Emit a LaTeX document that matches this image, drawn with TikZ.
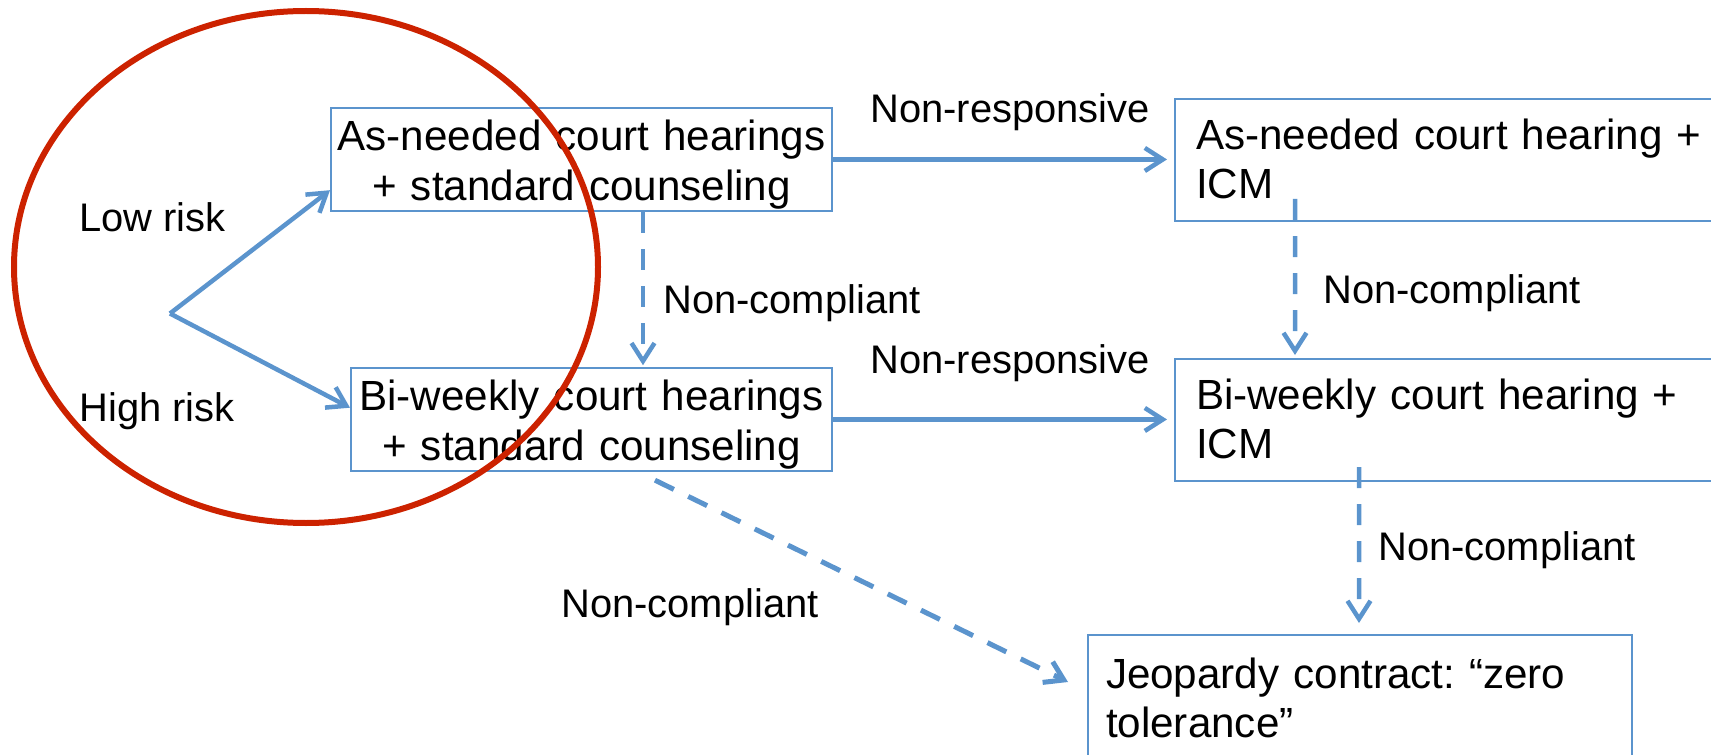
\documentclass[tikz,border=0pt]{standalone}
\usepackage{fontspec}
\setmainfont{Liberation Sans}
\usetikzlibrary{arrows.meta}
\definecolor{linkblue}{RGB}{91,148,205}
\definecolor{ringred}{RGB}{204,34,0}
\frenchspacing

\begin{document}
\begin{tikzpicture}[
	>={Straight Barb[length=0.36cm,width=0.46cm]},
	box/.style={draw=linkblue,line width=0.04cm,fill=white,inner xsep=0.14cm,inner ysep=0pt,anchor=north west,font=\fontsize{24}{28.45}\selectfont},
	midbox/.style={box,inner xsep=0.02cm,text width=9.98cm,align=center,text height=0.85cm,text depth=1.22cm},
	icmbox/.style={box,inner xsep=0.42cm,text width=10.6cm,align=left,text height=1cm,text depth=1.44cm},
	lbl/.style={anchor=base west,inner sep=0pt,font=\fontsize{22.7}{27}\selectfont},
	link/.style={->,draw=linkblue,line width=0.09cm},
	dlink/.style={link,dash pattern=on 0.42cm off 0.32cm}
	]
				\useasboundingbox (0,0) rectangle (34.22,-15.1);
				\clip (0,0) rectangle (34.22,-15.1);
				
				\coordinate (c1) at (6.6,-2.134);%as-needed
				\coordinate (c2) at (7.0,-7.334);%bi-weekly
				\coordinate (c3) at (23.48,-1.96);%as-needed + ICM
				\coordinate (c4) at (23.48,-7.16);%bi-weekly + ICM
				\coordinate (c5) at (21.74,-12.68);%jeopardy
				\coordinate (fork) at (3.4,-6.27);%risk split
				
				\node[midbox] (box1) at (c1) {As-needed court hearings\\+ standard counseling};
				\node[midbox,text width=9.58cm] (box2) at (c2) {Bi-weekly court hearings\\+ standard counseling};
				\node[icmbox] (box3) at (c3) {As-needed court hearing +\\ICM};
				\node[icmbox] (box4) at (c4) {Bi-weekly court hearing +\\ICM};
				\node[box,inner xsep=0.36cm,text width=10.16cm,align=left,text height=1.06cm,text depth=3cm] (box5) at (c5) {Jeopardy contract: “zero\\tolerance”};
				
				\draw[link] (fork) -- ([yshift=0.44cm]box1.south west);
				\draw[link] (fork) -- ([yshift=-0.82cm]box2.north west);
				\draw[link,shorten >=0.14cm] (box1.east) -- (box1.east -| box3.west);
				\draw[link,shorten >=0.14cm] (box2.east) -- (box2.east -| box4.west);
				\draw[dlink,shorten >=0.03cm] ([xshift=1.23cm]box1.south) -- ([xshift=1.23cm]box1.south |- box2.north);
				\draw[dlink,shorten >=0.06cm] ([shift={(2.42,0.46)}]box3.south west) -- ([xshift=2.42cm]box3.south west |- box4.north);
				\draw[dlink,shorten >=0.22cm] ([shift={(3.7,0.3)}]box4.south west) -- ([xshift=3.7cm]box4.south west |- box5.north);
				\draw[dlink,line width=0.1cm] ([shift={(1.27,-0.16)}]box2.south) -- ([shift={(-0.38,-0.96)}]box5.north west);
				
				\node[lbl] (low) at (1.58,-4.64) {Low risk};
				\node[lbl] (high) at (1.58,-8.42) {High risk};
				\node[lbl] (nr1) at (17.4,-2.46) {Non-responsive};
				\node[lbl] (nr2) at (17.4,-7.46) {Non-responsive};
				\node[lbl] (nc1) at (13.26,-6.26) {Non-compliant};
				\node[lbl] (nc2) at (26.46,-6.06) {Non-compliant};
				\node[lbl] (nc3) at (27.56,-11.2) {Non-compliant};
				\node[lbl] (nc4) at (11.22,-12.34) {Non-compliant};
				
				\draw[ringred,line width=0.12cm] (6.12,-5.34) ellipse (5.84cm and 5.12cm);
			\end{tikzpicture}
\end{document}
